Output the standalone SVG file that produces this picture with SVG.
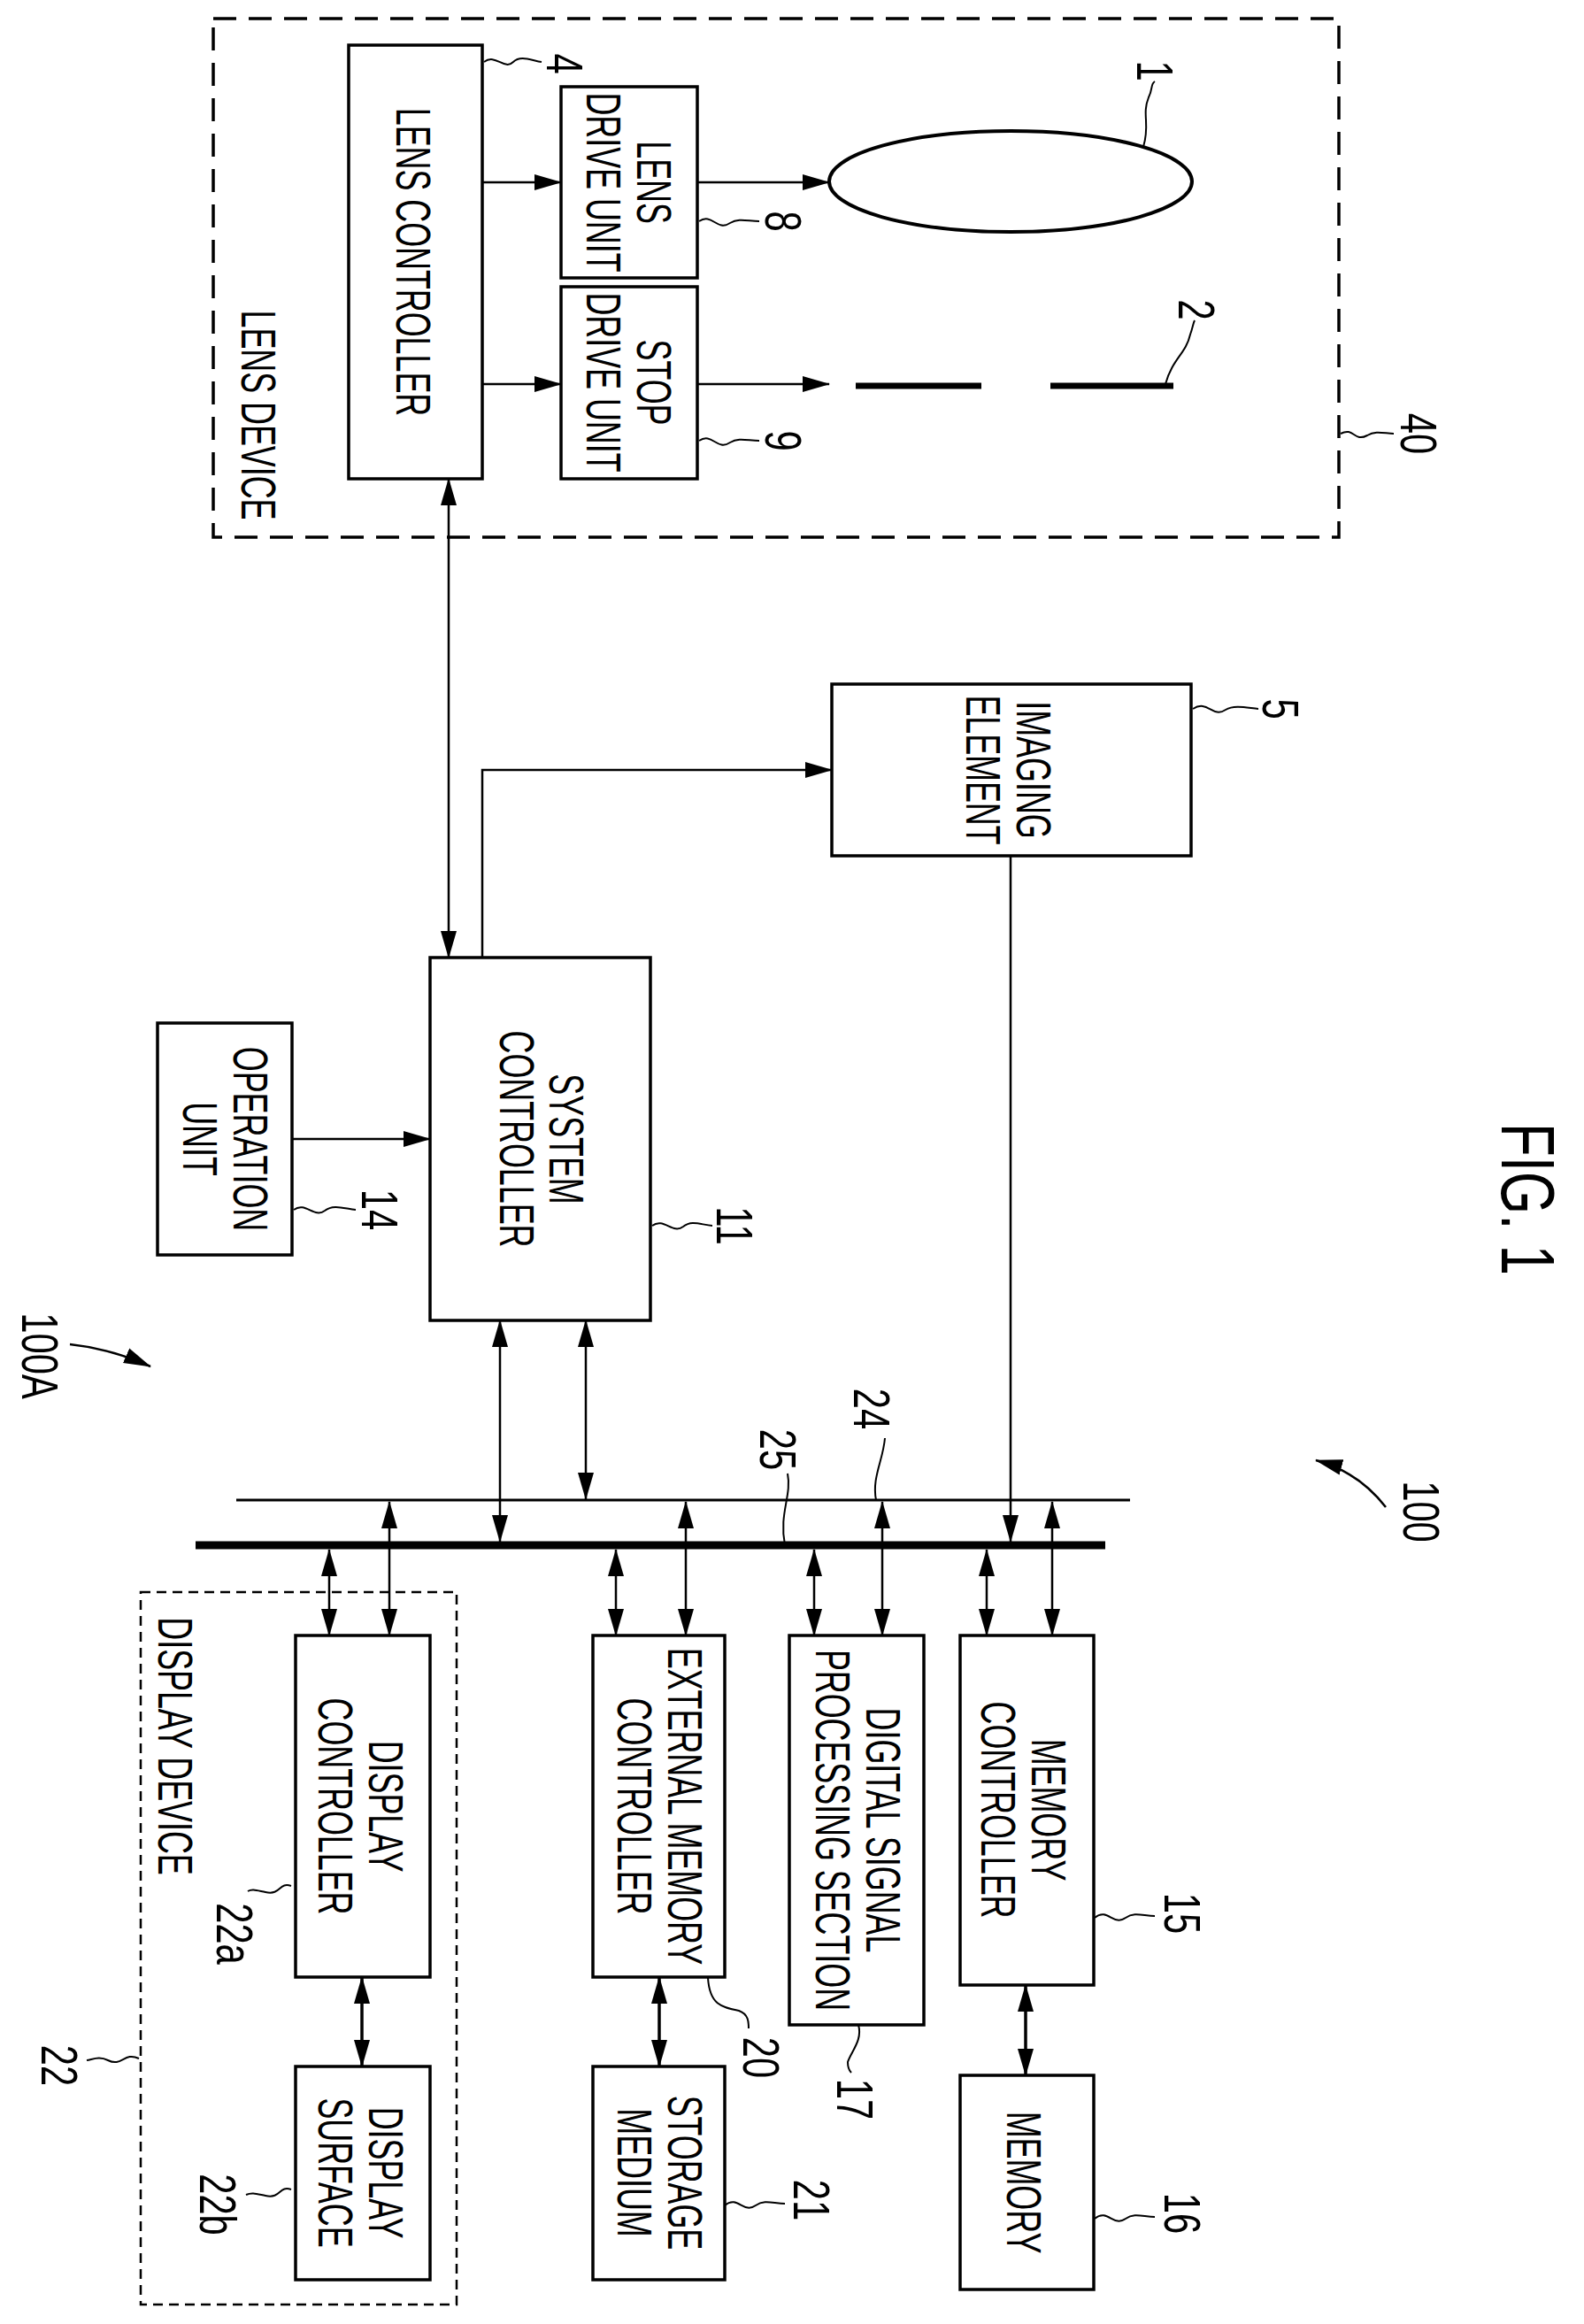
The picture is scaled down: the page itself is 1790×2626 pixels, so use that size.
<svg xmlns="http://www.w3.org/2000/svg" width="1790" height="2626" viewBox="0 0 1790 2626">
<style>
.b{fill:#fff;stroke:#000;stroke-width:3.5}
.d{fill:none;stroke:#000;stroke-width:3.5;stroke-dasharray:26 14}
.d2{fill:none;stroke:#000;stroke-width:2.5;stroke-dasharray:11 7}
.c{fill:none;stroke:#000;stroke-width:2.5}
.ld{fill:none;stroke:#000;stroke-width:2}
text{font-family:"Liberation Sans",Arial,sans-serif;font-size:56px;text-anchor:middle;dominant-baseline:central;fill:#000}
.n{font-size:58px}
</style>
<defs>
<marker id="a" markerUnits="userSpaceOnUse" markerWidth="32" markerHeight="20" refX="30" refY="10" orient="auto-start-reverse"><path d="M0,1 L31,10 L0,19 Z"/></marker>
</defs>
<rect width="1790" height="2626" fill="#fff"/>
<g id="lens-device"><rect class="d" x="241" y="21" width="1272" height="586"/><text transform="translate(293,469) rotate(90) scale(0.64,1)">LENS DEVICE</text></g>
<g id="lens-controller"><rect class="b" x="394" y="51" width="151" height="490"/><text transform="translate(468,296) rotate(90) scale(0.64,1)">LENS CONTROLLER</text></g>
<g id="lens-drive"><rect class="b" x="634" y="98" width="154" height="216"/><text transform="translate(740,206) rotate(90) scale(0.64,1)">LENS</text><text transform="translate(683,206) rotate(90) scale(0.64,1)">DRIVE UNIT</text></g>
<g id="stop-drive"><rect class="b" x="634" y="324" width="154" height="217"/><text transform="translate(740,432) rotate(90) scale(0.64,1)">STOP</text><text transform="translate(683,432) rotate(90) scale(0.64,1)">DRIVE UNIT</text></g>
<g id="lens"><ellipse cx="1142" cy="205" rx="205" ry="57" fill="none" stroke="#000" stroke-width="4"/></g>
<g id="stop"><path d="M967,436 H1109 M1187,436 H1326" stroke="#000" stroke-width="7" fill="none"/></g>
<g id="imaging"><rect class="b" x="940" y="773" width="406" height="194"/><text transform="translate(1169,870) rotate(90) scale(0.64,1)">IMAGING</text><text transform="translate(1112,870) rotate(90) scale(0.64,1)">ELEMENT</text></g>
<g id="system"><rect class="b" x="486" y="1082" width="249" height="410"/><text transform="translate(641,1287) rotate(90) scale(0.64,1)">SYSTEM</text><text transform="translate(585,1287) rotate(90) scale(0.64,1)">CONTROLLER</text></g>
<g id="operation"><rect class="b" x="178" y="1156" width="152" height="262"/><text transform="translate(284,1287) rotate(90) scale(0.64,1)">OPERATION</text><text transform="translate(227,1287) rotate(90) scale(0.64,1)">UNIT</text></g>
<g id="display-device"><rect class="d2" x="159" y="1799" width="357" height="805"/><text transform="translate(199,1973) rotate(90) scale(0.64,1)">DISPLAY DEVICE</text></g>
<g id="display-controller"><rect class="b" x="334" y="1848" width="152" height="386"/><text transform="translate(437,2041) rotate(90) scale(0.64,1)">DISPLAY</text><text transform="translate(380,2041) rotate(90) scale(0.64,1)">CONTROLLER</text></g>
<g id="display-surface"><rect class="b" x="334" y="2335" width="152" height="241"/><text transform="translate(437,2455) rotate(90) scale(0.64,1)">DISPLAY</text><text transform="translate(380,2455) rotate(90) scale(0.64,1)">SURFACE</text></g>
<g id="ext-memory"><rect class="b" x="670" y="1848" width="149" height="386"/><text transform="translate(775,2041) rotate(90) scale(0.64,1)">EXTERNAL MEMORY</text><text transform="translate(718,2041) rotate(90) scale(0.64,1)">CONTROLLER</text></g>
<g id="storage"><rect class="b" x="670" y="2335" width="149" height="241"/><text transform="translate(775,2455) rotate(90) scale(0.64,1)">STORAGE</text><text transform="translate(718,2455) rotate(90) scale(0.64,1)">MEDIUM</text></g>
<g id="dsp"><rect class="b" x="892" y="1848" width="152" height="440"/><text transform="translate(999,2068) rotate(90) scale(0.64,1)">DIGITAL SIGNAL</text><text transform="translate(942,2068) rotate(90) scale(0.64,1)">PROCESSING SECTION</text></g>
<g id="memory-controller"><rect class="b" x="1085" y="1848" width="151" height="395"/><text transform="translate(1186,2045) rotate(90) scale(0.64,1)">MEMORY</text><text transform="translate(1129,2045) rotate(90) scale(0.64,1)">CONTROLLER</text></g>
<g id="memory"><rect class="b" x="1085" y="2345" width="151" height="242"/><text transform="translate(1158,2466) rotate(90) scale(0.64,1)">MEMORY</text></g>
<g id="buses"><path d="M267,1695 H1277" stroke="#000" stroke-width="3" fill="none"/><path d="M221,1746 H1249" stroke="#000" stroke-width="9" fill="none"/></g>
<g id="connectors">
<path class="c" d="M545,206 H634" marker-end="url(#a)"/>
<path class="c" d="M545,434 H634" marker-end="url(#a)"/>
<path class="c" d="M788,206 H937" marker-end="url(#a)"/>
<path class="c" d="M788,434 H937" marker-end="url(#a)"/>
<path class="c" d="M507,541 V1082" marker-start="url(#a)" marker-end="url(#a)"/>
<path class="c" d="M545,1082 V870 H940" marker-end="url(#a)"/>
<path class="c" d="M330,1287 H486" marker-end="url(#a)"/>
<path class="c" d="M1142,967 V1742" marker-end="url(#a)"/>
<path class="c" d="M565,1492 V1742" marker-start="url(#a)" marker-end="url(#a)"/>
<path class="c" d="M662,1492 V1694" marker-start="url(#a)" marker-end="url(#a)"/>
<path class="c" d="M440,1697 V1848" marker-start="url(#a)" marker-end="url(#a)"/>
<path class="c" d="M372,1751 V1848" marker-start="url(#a)" marker-end="url(#a)"/>
<path class="c" d="M696,1751 V1848" marker-start="url(#a)" marker-end="url(#a)"/>
<path class="c" d="M775,1697 V1848" marker-start="url(#a)" marker-end="url(#a)"/>
<path class="c" d="M920,1751 V1848" marker-start="url(#a)" marker-end="url(#a)"/>
<path class="c" d="M997,1697 V1848" marker-start="url(#a)" marker-end="url(#a)"/>
<path class="c" d="M1115,1751 V1848" marker-start="url(#a)" marker-end="url(#a)"/>
<path class="c" d="M1189,1697 V1848" marker-start="url(#a)" marker-end="url(#a)"/>
<path class="c" style="stroke-width:3.5" d="M409,2234 V2335" marker-start="url(#a)" marker-end="url(#a)"/>
<path class="c" style="stroke-width:3.5" d="M745,2234 V2335" marker-start="url(#a)" marker-end="url(#a)"/>
<path class="c" style="stroke-width:3.5" d="M1159,2243 V2345" marker-start="url(#a)" marker-end="url(#a)"/>
<path class="c" d="M79,1519 Q125,1524 170,1544" marker-end="url(#a)"/>
<path class="c" d="M1566,1703 Q1535,1663 1487,1650" marker-end="url(#a)"/>
</g>
<g id="leaders">
<path class="ld" d="M547,70 C560,60 570,80 580,70 C588,62 600,68 612,70"/>
<path class="ld" d="M1292,166 C1300,140 1290,130 1298,110 C1303,100 1300,95 1305,92"/>
<path class="ld" d="M790,250 C805,240 810,262 825,252 C835,246 845,250 858,250"/>
<path class="ld" d="M790,498 C805,488 810,510 825,500 C835,494 845,498 858,498"/>
<path class="ld" d="M1317,434 C1325,405 1340,400 1345,378 C1348,370 1348,366 1350,362"/>
<path class="ld" d="M1515,490 C1530,482 1530,500 1545,492 C1555,486 1565,490 1575,490"/>
<path class="ld" d="M1348,801 C1365,790 1370,812 1385,802 C1395,796 1410,800 1422,801"/>
<path class="ld" d="M737,1385 C750,1375 760,1395 772,1386 C782,1378 792,1384 805,1385"/>
<path class="ld" d="M332,1367 C345,1357 355,1377 367,1368 C377,1360 390,1366 402,1367"/>
<path class="ld" d="M990,1695 C985,1670 998,1650 1000,1625"/>
<path class="ld" d="M887,1746 C880,1710 895,1690 890,1665"/>
<path class="ld" d="M329,2131 C315,2126 318,2142 300,2138 C290,2136 285,2134 280,2137"/>
<path class="ld" d="M329,2474 C315,2469 318,2485 300,2481 C290,2479 285,2477 278,2480"/>
<path class="ld" d="M157,2326 C140,2318 138,2336 122,2328 C112,2323 105,2327 98,2328"/>
<path class="ld" d="M800,2235 C802,2265 815,2268 835,2272 C846,2276 846,2285 846,2292"/>
<path class="ld" d="M970,2288 C975,2305 962,2318 958,2330 C958,2336 960,2340 962,2342"/>
<path class="ld" d="M1237,2167 C1252,2155 1258,2177 1272,2167 C1282,2160 1292,2165 1305,2165"/>
<path class="ld" d="M1237,2507 C1252,2495 1258,2517 1272,2507 C1282,2500 1292,2505 1305,2505"/>
<path class="ld" d="M819,2492 C834,2480 840,2502 854,2492 C864,2485 874,2490 887,2490"/>
</g>
<g id="labels">
<text class="n" transform="translate(638,72) rotate(90) scale(0.72,1)">4</text>
<text class="n" transform="translate(1305,80) rotate(90) scale(0.72,1)">1</text>
<text class="n" transform="translate(885,250) rotate(90) scale(0.72,1)">8</text>
<text class="n" transform="translate(885,498) rotate(90) scale(0.72,1)">9</text>
<text class="n" transform="translate(1352,350) rotate(90) scale(0.72,1)">2</text>
<text class="n" transform="translate(1603,490) rotate(90) scale(0.72,1)">40</text>
<text class="n" transform="translate(1447,801) rotate(90) scale(0.72,1)">5</text>
<text class="n" transform="translate(830,1385) rotate(90) scale(0.72,1)">11</text>
<text class="n" transform="translate(429,1367) rotate(90) scale(0.72,1)">14</text>
<text class="n" transform="translate(45,1532) rotate(90) scale(0.72,1)">100A</text>
<text class="n" transform="translate(985,1592) rotate(90) scale(0.72,1)">24</text>
<text class="n" transform="translate(879,1638) rotate(90) scale(0.72,1)">25</text>
<text class="n" transform="translate(1606,1708) rotate(90) scale(0.72,1)">100</text>
<text class="n" transform="translate(265,2185) rotate(90) scale(0.72,1)">22a</text>
<text class="n" transform="translate(246,2491) rotate(90) scale(0.72,1)">22b</text>
<text class="n" transform="translate(67,2334) rotate(90) scale(0.72,1)">22</text>
<text class="n" transform="translate(860,2325) rotate(90) scale(0.72,1)">20</text>
<text class="n" transform="translate(966,2372) rotate(90) scale(0.72,1)">17</text>
<text class="n" transform="translate(1336,2162) rotate(90) scale(0.72,1)">15</text>
<text class="n" transform="translate(1336,2501) rotate(90) scale(0.72,1)">16</text>
<text class="n" transform="translate(917,2486) rotate(90) scale(0.72,1)">21</text>
<text style="font-size:86px" transform="translate(1727,1355) rotate(90) scale(0.72,1)">FIG. 1</text>
</g>
</svg>
